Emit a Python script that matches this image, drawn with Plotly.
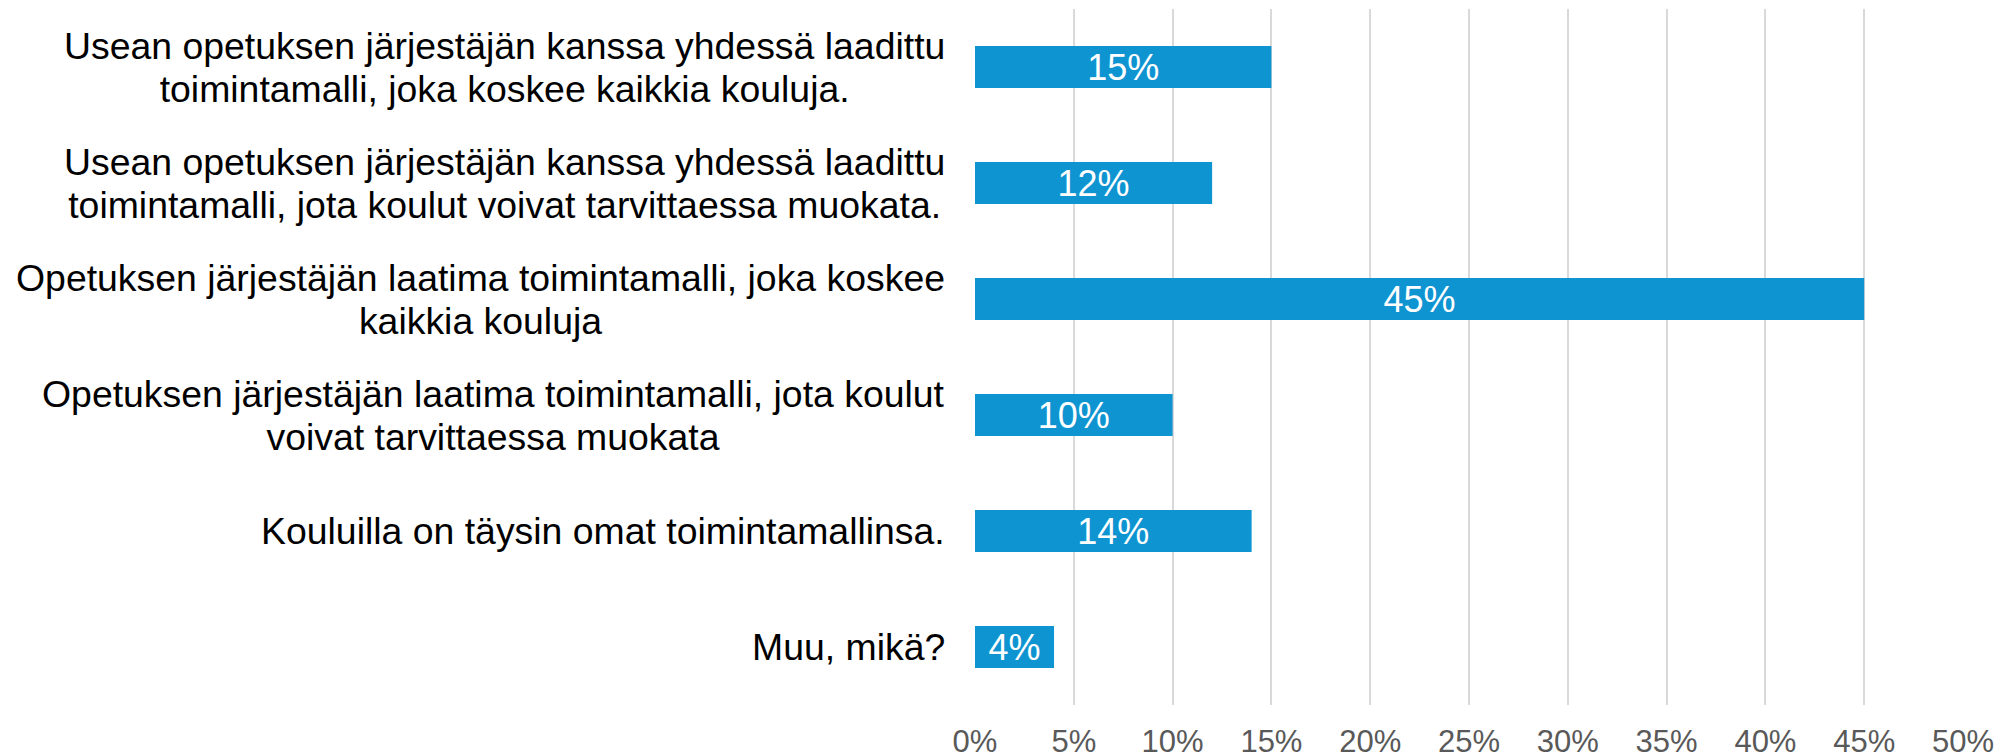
import plotly.graph_objects as go

categories = [
    "Usean opetuksen järjestäjän kanssa yhdessä laadittu<br>toimintamalli, joka koskee kaikkia kouluja.",
    "Usean opetuksen järjestäjän kanssa yhdessä laadittu<br>toimintamalli, jota koulut voivat tarvittaessa muokata.",
    "Opetuksen järjestäjän laatima toimintamalli, joka koskee<br>kaikkia kouluja",
    "Opetuksen järjestäjän laatima toimintamalli, jota koulut<br>voivat tarvittaessa muokata",
    "Kouluilla on täysin omat toimintamallinsa.",
    "Muu, mikä?",
]
values = [0.15, 0.12, 0.45, 0.10, 0.14, 0.04]
tick_vals = [0, 0.05, 0.10, 0.15, 0.20, 0.25, 0.30, 0.35, 0.40, 0.45, 0.50]
tick_text = ["0%", "5%", "10%", "15%", "20%", "25%", "30%", "35%", "40%", "45%", "50%"]

FONT = "Liberation Sans, Arial, sans-serif"
# page body has an 8px default margin; compensate so the plot lands where the reference has it
W, H = 1997, 756
ML, MR, MT, MB = 967, 42, 1, 59
LABEL_SIZE = 37.4
LINE_BASE = 33.3  # base size controlling line spacing (1.3em)

fig = go.Figure(go.Bar(
    y=categories, x=values, orientation="h",
    marker=dict(color="#0F94D2", line=dict(width=0)),
    text=[f"{round(v*100)}%" for v in values],
    textposition="inside", insidetextanchor="middle",
    textfont=dict(family=FONT, size=36, color="white"),
    constraintext="none",
    hoverinfo="skip",
))

annotations = []
for c in categories:
    lines = c.split("<br>")
    txt = "<br>".join(f'<span style="font-size:{LABEL_SIZE}px">{ln}</span>' for ln in lines)
    annotations.append(dict(
        x=0, xref="paper", y=c, yref="y",
        text=txt, showarrow=False, xanchor="right", yanchor="middle",
        align="center", xshift=-28,
        font=dict(family=FONT, size=LINE_BASE, color="black"),
    ))

fig.update_layout(
    width=W, height=H,
    margin=dict(l=ML, r=MR, t=MT, b=MB, pad=0, autoexpand=False),
    plot_bgcolor="white", paper_bgcolor="white",
    bargap=0.64,
    showlegend=False,
    annotations=annotations,
    xaxis=dict(
        range=[0, 0.5], tickvals=tick_vals, ticktext=tick_text,
        showgrid=True, gridcolor="#D9D9D9", gridwidth=1.5,
        zeroline=False, showline=False, ticks="",
        tickfont=dict(family=FONT, size=31, color="#595959"),
        ticklabelstandoff=15, automargin=False,
    ),
    yaxis=dict(
        autorange="reversed", showticklabels=False, showgrid=False,
        zeroline=False, showline=False, ticks="", automargin=False,
    ),
)

fig.write_html("out.html")
